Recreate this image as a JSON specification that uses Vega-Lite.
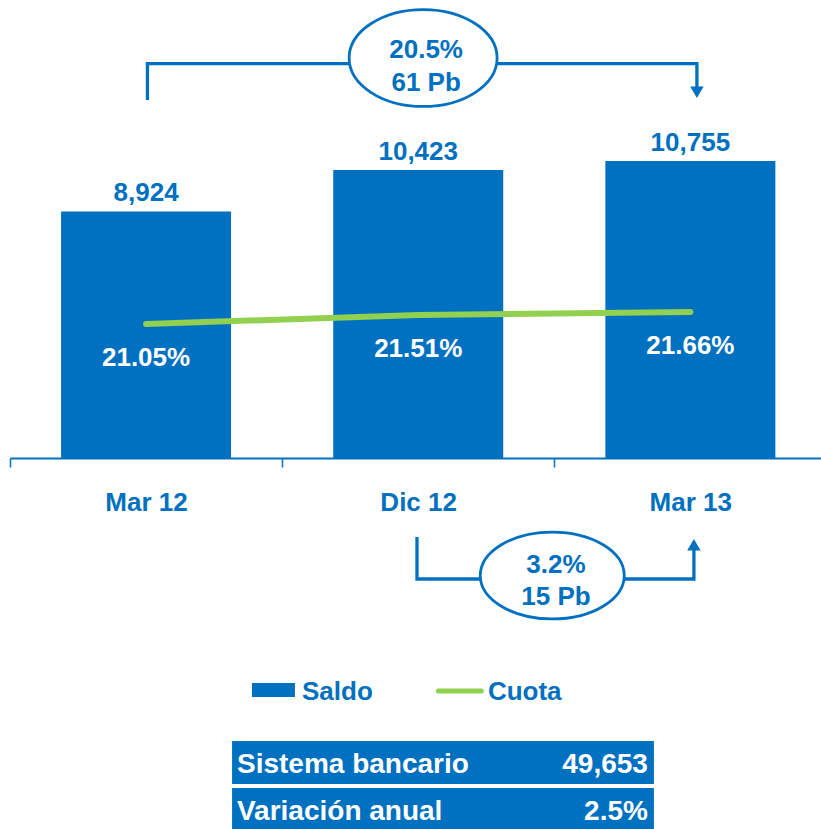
{
  "$schema": "https://vega.github.io/schema/vega-lite/v6.json",
  "width": 811,
  "height": 458,
  "autosize": "none",
  "padding": {"left": 10, "top": 0, "right": 0, "bottom": 371},
  "background": "white",
  "config": {
    "view": {"stroke": null},
    "text": {"font": "Liberation Sans", "fontWeight": "bold", "fontSize": 26}
  },
  "datasets": {
    "saldo": [
      {"mes": "Mar 12", "pos": 0.5, "saldo": 8924, "cuota": 0.2105},
      {"mes": "Dic 12", "pos": 1.5, "saldo": 10423, "cuota": 0.2151},
      {"mes": "Mar 13", "pos": 2.5, "saldo": 10755, "cuota": 0.2166}
    ],
    "corchetes": [
      {"tramo": "anual", "paso": 1, "u": 0.505, "v": 12960},
      {"tramo": "anual", "paso": 2, "u": 0.505, "v": 14280},
      {"tramo": "anual", "paso": 3, "u": 2.524, "v": 14280},
      {"tramo": "anual", "paso": 4, "u": 2.524, "v": 13300},
      {"tramo": "trimestral", "paso": 1, "u": 1.4955, "v": -2860},
      {"tramo": "trimestral", "paso": 2, "u": 1.4955, "v": -4380},
      {"tramo": "trimestral", "paso": 3, "u": 2.513, "v": -4380},
      {"tramo": "trimestral", "paso": 4, "u": 2.513, "v": -3260}
    ],
    "flechas": [
      {"tramo": "anual", "dir": "abajo", "u": 2.524, "v": 13242},
      {"tramo": "trimestral", "dir": "arriba", "u": 2.513, "v": -3142}
    ],
    "elipses": [
      {"tramo": "anual", "u": 1.518, "v": 14480},
      {"tramo": "trimestral", "u": 1.9925, "v": -4254}
    ],
    "variaciones": [
      {"texto": "20.5%", "u": 1.529, "v": 14480},
      {"texto": "61 Pb", "u": 1.529, "v": 13286},
      {"texto": "3.2%", "u": 2.006, "v": -4163},
      {"texto": "15 Pb", "u": 2.006, "v": -5321}
    ],
    "leyenda": [
      {"serie": "Saldo", "u": 1.073, "v": -8760, "s1": 0.889, "s2": 1.047, "sv1": -8145, "sv2": -8652},
      {"serie": "Cuota", "u": 1.756, "v": -8760, "s1": 1.574, "s2": 1.732, "sv1": -8435, "sv2": -8435}
    ],
    "tabla": [
      {"concepto": "Sistema bancario", "valor": "49,653", "u1": 0.816, "u2": 2.366, "techo": -10245, "piso": -11801, "base": -11414, "ui": 0.834, "ud": 2.344},
      {"concepto": "Variación anual", "valor": "2.5%", "u1": 0.816, "u2": 2.366, "techo": -11946, "piso": -13520, "base": -13104, "ui": 0.834, "ud": 2.344}
    ]
  },
  "layer": [
    {
      "layer": [
        {
          "data": {"name": "saldo"},
          "mark": {"type": "bar", "width": 170, "color": "#0070C0"},
          "encoding": {
            "x": {
              "field": "pos", "type": "quantitative", "title": null,
              "scale": {"domain": [0, 2.98], "nice": false, "zero": false, "padding": 0},
              "axis": {
                "title": null, "values": [0, 1, 2], "grid": false,
                "labelExpr": "datum.value === 0 ? 'Mar 12' : datum.value === 1 ? 'Dic 12' : 'Mar 13'",
                "labelOffset": 136, "labelFlush": false, "labelOverlap": false, "labelBound": false,
                "labelFont": "Liberation Sans", "labelFontWeight": "bold", "labelFontSize": 26,
                "labelColor": "#0070C0", "labelPadding": 22,
                "domainColor": "#0070C0", "domainWidth": 2,
                "tickColor": "#0070C0", "tickWidth": 1.5, "tickSize": 9
              }
            },
            "y": {"field": "saldo", "type": "quantitative", "scale": {"domain": [0, 16580], "nice": false, "padding": 0}, "axis": null}
          }
        },
        {
          "data": {"name": "saldo"},
          "mark": {"type": "text", "color": "#0070C0", "baseline": "alphabetic", "dy": -10},
          "encoding": {
            "x": {"field": "pos", "type": "quantitative", "title": null},
            "y": {"field": "saldo", "type": "quantitative", "axis": null},
            "text": {"field": "saldo", "type": "quantitative", "format": ",.0f"}
          }
        },
        {
          "data": {"name": "corchetes"},
          "mark": {"type": "line", "color": "#0070C0", "strokeWidth": 3.3, "strokeJoin": "miter", "strokeCap": "butt"},
          "encoding": {
            "x": {"field": "u", "type": "quantitative", "title": null},
            "y": {"field": "v", "type": "quantitative", "axis": null},
            "detail": {"field": "tramo"},
            "order": {"field": "paso", "type": "quantitative"}
          }
        },
        {
          "data": {"name": "flechas"},
          "mark": {"type": "point", "filled": true, "color": "#0070C0", "opacity": 1, "size": 180},
          "encoding": {
            "x": {"field": "u", "type": "quantitative", "title": null},
            "y": {"field": "v", "type": "quantitative", "axis": null},
            "shape": {"field": "dir", "type": "nominal", "scale": {"domain": ["abajo", "arriba"], "range": ["triangle-down", "triangle-up"]}, "legend": null}
          }
        },
        {
          "data": {"name": "elipses"},
          "transform": [{"filter": "datum.tramo === 'anual'"}],
          "mark": {"type": "point", "shape": "M -1 0 A 1 0.655 0 1 1 1 0 A 1 0.655 0 1 1 -1 0 Z", "size": 21904, "filled": true, "fill": "white", "stroke": "#0070C0", "strokeWidth": 2.75, "opacity": 1},
          "encoding": {
            "x": {"field": "u", "type": "quantitative", "title": null},
            "y": {"field": "v", "type": "quantitative", "axis": null}
          }
        },
        {
          "data": {"name": "elipses"},
          "transform": [{"filter": "datum.tramo === 'trimestral'"}],
          "mark": {"type": "point", "shape": "M -1 0 A 1 0.604 0 1 1 1 0 A 1 0.604 0 1 1 -1 0 Z", "size": 20736, "filled": true, "fill": "white", "stroke": "#0070C0", "strokeWidth": 2.75, "opacity": 1},
          "encoding": {
            "x": {"field": "u", "type": "quantitative", "title": null},
            "y": {"field": "v", "type": "quantitative", "axis": null}
          }
        },
        {
          "data": {"name": "variaciones"},
          "mark": {"type": "text", "color": "#0070C0", "baseline": "alphabetic", "align": "center"},
          "encoding": {
            "x": {"field": "u", "type": "quantitative", "title": null},
            "y": {"field": "v", "type": "quantitative", "axis": null},
            "text": {"field": "texto"}
          }
        },
        {
          "data": {"name": "leyenda"},
          "transform": [{"filter": "datum.serie === 'Saldo'"}],
          "mark": {"type": "rect", "color": "#0070C0"},
          "encoding": {
            "x": {"field": "s1", "type": "quantitative", "title": null},
            "x2": {"field": "s2"},
            "y": {"field": "sv1", "type": "quantitative", "axis": null},
            "y2": {"field": "sv2"}
          }
        },
        {
          "data": {"name": "leyenda"},
          "transform": [{"filter": "datum.serie === 'Cuota'"}],
          "mark": {"type": "rule", "color": "#92D050", "strokeWidth": 5, "strokeCap": "round"},
          "encoding": {
            "x": {"field": "s1", "type": "quantitative", "title": null},
            "x2": {"field": "s2"},
            "y": {"field": "sv1", "type": "quantitative", "axis": null}
          }
        },
        {
          "data": {"name": "leyenda"},
          "mark": {"type": "text", "color": "#0070C0", "baseline": "alphabetic", "align": "left"},
          "encoding": {
            "x": {"field": "u", "type": "quantitative", "title": null},
            "y": {"field": "v", "type": "quantitative", "axis": null},
            "text": {"field": "serie"}
          }
        },
        {
          "data": {"name": "tabla"},
          "mark": {"type": "rect", "color": "#0070C0"},
          "encoding": {
            "x": {"field": "u1", "type": "quantitative", "title": null},
            "x2": {"field": "u2"},
            "y": {"field": "techo", "type": "quantitative", "axis": null},
            "y2": {"field": "piso"}
          }
        },
        {
          "data": {"name": "tabla"},
          "mark": {"type": "text", "color": "white", "baseline": "alphabetic", "align": "left", "fontSize": 28},
          "encoding": {
            "x": {"field": "ui", "type": "quantitative", "title": null},
            "y": {"field": "base", "type": "quantitative", "axis": null},
            "text": {"field": "concepto"}
          }
        },
        {
          "data": {"name": "tabla"},
          "mark": {"type": "text", "color": "white", "baseline": "alphabetic", "align": "right", "fontSize": 28},
          "encoding": {
            "x": {"field": "ud", "type": "quantitative", "title": null},
            "y": {"field": "base", "type": "quantitative", "axis": null},
            "text": {"field": "valor"}
          }
        }
      ]
    },
    {
      "layer": [
        {
          "data": {"name": "saldo"},
          "mark": {"type": "line", "color": "#92D050", "strokeWidth": 6, "strokeCap": "round"},
          "encoding": {
            "x": {"field": "pos", "type": "quantitative", "title": null},
            "y": {"field": "cuota", "type": "quantitative", "scale": {"domain": [0.1424, 0.3752], "nice": false, "zero": false}, "axis": null}
          }
        },
        {
          "data": {"name": "saldo"},
          "mark": {"type": "text", "color": "white", "baseline": "alphabetic", "dy": 42},
          "encoding": {
            "x": {"field": "pos", "type": "quantitative", "title": null},
            "y": {"field": "cuota", "type": "quantitative", "axis": null},
            "text": {"field": "cuota", "type": "quantitative", "format": ".2%"}
          }
        }
      ]
    }
  ],
  "resolve": {"scale": {"y": "independent"}}
}
